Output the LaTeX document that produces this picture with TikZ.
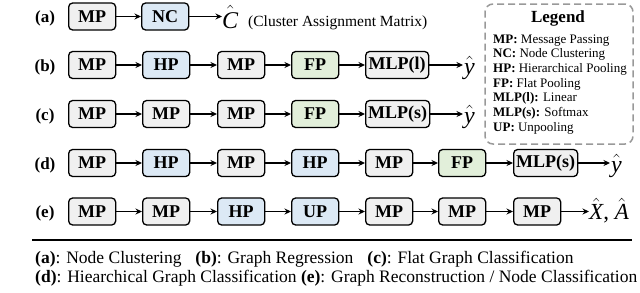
\documentclass[tikz,border=0pt]{standalone}
\usepackage{fontspec}
\setmainfont{Liberation Serif}
\usetikzlibrary{arrows.meta}
\newcommand\fsz[1]{\fontsize{#1}{#1}\selectfont}
\newcommand\hatit[1]{$\hat{\mbox{\itshape #1}}$}
\definecolor{boxgray}{HTML}{F0F0F0}
\definecolor{boxblue}{HTML}{DCE9F5}
\definecolor{boxgreen}{HTML}{E2EFDA}
\definecolor{legendgray}{HTML}{999999}
\begin{document}
\begin{tikzpicture}[x=1pt,y=-1pt,
  blk/.style={draw=black, line width=1.3pt, rounded corners=4pt, minimum width=47pt,
    minimum height=27pt, inner xsep=2pt, inner ysep=0pt, font=\fsz{18}\rmfamily\bfseries, anchor=west},
  gbox/.style={blk, fill=boxgray},
  bbox/.style={blk, fill=boxblue},
  grbox/.style={blk, fill=boxgreen},
  arr/.style={-{Stealth[length=6.5pt,width=6pt]}, line width=1.2pt},
  rowlab/.style={font=\fsz{17}\rmfamily\bfseries, anchor=center},
  outm/.style={font=\fsz{24}\rmfamily, inner sep=0pt, anchor=base west},
  legtxt/.style={font=\fsz{13}\rmfamily, inner sep=0pt, anchor=base west},
  captxt/.style={font=\fsz{17.5}\rmfamily, inner sep=0pt, anchor=base west}]
\useasboundingbox (0,0) rectangle (640,292);
\def\ya{16.5}\def\yb{65}\def\yc{114}\def\yd{163}\def\ye{211.5}
% row labels
\node[rowlab] (la) at (45,\ya+2) {(a)};
\node[rowlab] (lb) at (45,\yb+2) {(b)};
\node[rowlab] (lc) at (45,\yc+2) {(c)};
\node[rowlab] (ld) at (45,\yd+2) {(d)};
\node[rowlab] (le) at (45,\ye+2) {(e)};
% row a
\node[gbox] (a1) at (68,\ya) {MP};
\node[bbox] (a2) at (141,\ya) {NC};
\node[outm] (aout) at (222,\ya+11.5) {\hatit{C}};
\node[font=\fsz{15.5}\rmfamily, inner sep=0pt, anchor=base west] (acap) at (248,\ya+10) {(Cluster Assignment Matrix)};
\draw[arr] (a1) -- (a2);
\draw[arr] (a2.east) -- (a2.east -| aout.west);
% row b
\node[gbox] (b1) at (68,\yb) {MP};
\node[bbox] (b2) at (142,\yb) {HP};
\node[gbox] (b3) at (217,\yb) {MP};
\node[grbox] (b4) at (291,\yb) {FP};
\node[gbox, minimum width=63pt] (b5) at (365,\yb) {MLP(l)};
\node[outm] (bout) at (464,\yb+9) {\hatit{y}};
\draw[arr] (b1) -- (b2);
\draw[arr] (b2) -- (b3);
\draw[arr] (b3) -- (b4);
\draw[arr] (b4) -- (b5);
\draw[arr] (b5.east) -- ([xshift=-1pt]b5.east -| bout.west);
% row c
\node[gbox] (c1) at (68,\yc) {MP};
\node[gbox] (c2) at (142,\yc) {MP};
\node[gbox] (c3) at (217,\yc) {MP};
\node[grbox] (c4) at (291,\yc) {FP};
\node[gbox, minimum width=64pt] (c5) at (365,\yc) {MLP(s)};
\node[outm] (cout) at (464,\yc+9) {\hatit{y}};
\draw[arr] (c1) -- (c2);
\draw[arr] (c2) -- (c3);
\draw[arr] (c3) -- (c4);
\draw[arr] (c4) -- (c5);
\draw[arr] (c5.east) -- ([xshift=-1pt]c5.east -| cout.west);
% row d
\node[gbox] (d1) at (68,\yd) {MP};
\node[bbox] (d2) at (142,\yd) {HP};
\node[gbox] (d3) at (217,\yd) {MP};
\node[bbox] (d4) at (291,\yd) {HP};
\node[gbox] (d5) at (365,\yd) {MP};
\node[grbox] (d6) at (438,\yd) {FP};
\node[gbox, minimum width=64pt] (d7) at (513,\yd) {MLP(s)};
\node[outm] (dout) at (611,\yd+9) {\hatit{y}};
\draw[arr] (d1) -- (d2);
\draw[arr] (d2) -- (d3);
\draw[arr] (d3) -- (d4);
\draw[arr] (d4) -- (d5);
\draw[arr] (d5) -- (d6);
\draw[arr] (d6) -- (d7);
\draw[arr] (d7.east) -- ([xshift=-1pt]d7.east -| dout.west);
% row e
\node[gbox] (e1) at (68,\ye) {MP};
\node[gbox] (e2) at (142,\ye) {MP};
\node[bbox] (e3) at (217,\ye) {HP};
\node[bbox] (e4) at (291,\ye) {UP};
\node[gbox] (e5) at (365,\ye) {MP};
\node[gbox] (e6) at (438,\ye) {MP};
\node[gbox] (e7) at (513,\ye) {MP};
\node[outm, font=\fsz{23}\rmfamily] (eout) at (589,\ye+8) {\hatit{X}, \hatit{A}};
\draw[arr] (e1) -- (e2);
\draw[arr] (e2) -- (e3);
\draw[arr] (e3) -- (e4);
\draw[arr] (e4) -- (e5);
\draw[arr] (e5) -- (e6);
\draw[arr] (e6) -- (e7);
\draw[arr] (e7.east) -- (e7.east -| eout.west);
% legend
\node[draw=legendgray, line width=1.5pt, dash pattern=on 7pt off 4pt, rounded corners=8pt,
  minimum width=148pt, minimum height=140pt, inner sep=0pt] (legend) at (559,74) {};
\node[font=\fsz{17}\rmfamily\bfseries, inner sep=0pt, anchor=base] (legtitle) at (558,22) {Legend};
\node[legtxt] (l1) at (493,43) {\textbf{MP:} Message Passing};
\node[legtxt] (l2) at (493,57.7) {\textbf{NC:} Node Clustering};
\node[legtxt] (l3) at (493,72.4) {\textbf{HP:} Hierarchical Pooling};
\node[legtxt] (l4) at (493,87.1) {\textbf{FP:} Flat Pooling};
\node[legtxt] (l5) at (493,101.8) {\textbf{MLP(l):} Linear};
\node[legtxt] (l6) at (493,116.5) {\textbf{MLP(s):} Softmax};
\node[legtxt] (l7) at (493,131.2) {\textbf{UP:} Unpooling};
% separator
\coordinate (s1) at (32,240);
\coordinate (s2) at (632,240);
\draw[line width=1.5pt] (s1) -- (s2);
% caption
\node[captxt] (cap1) at (35,263) {\textbf{(a)}: Node Clustering\hspace{0.8em}\textbf{(b)}: Graph Regression\hspace{0.8em}\textbf{(c)}: Flat Graph Classification};
\node[captxt] (cap2) at (35,282) {\textbf{(d)}: Hiearchical Graph Classification \textbf{(e)}: Graph Reconstruction / Node Classification};
\end{tikzpicture}
\end{document}
